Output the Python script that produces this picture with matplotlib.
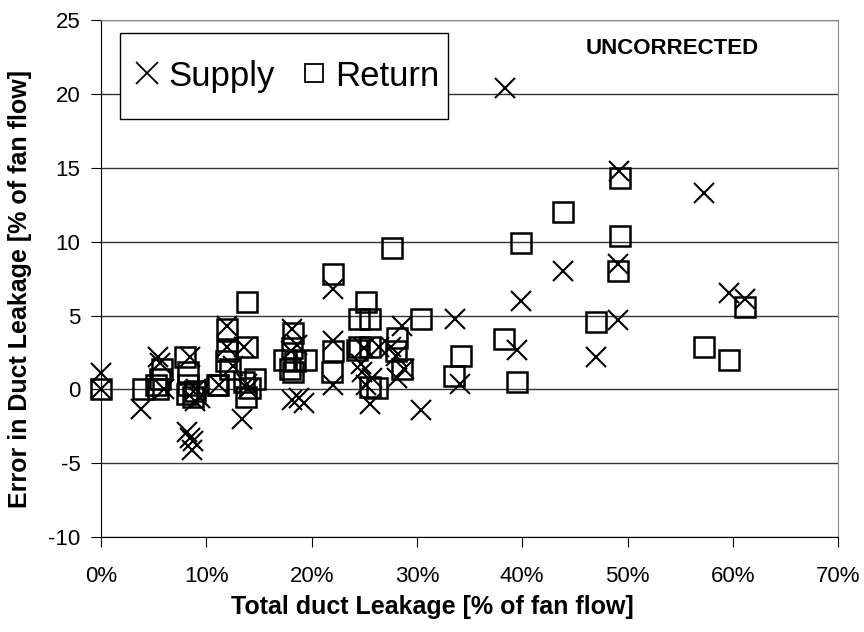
import matplotlib
matplotlib.use("Agg")
import matplotlib.pyplot as plt
from matplotlib.lines import Line2D
from matplotlib.patches import Rectangle
from matplotlib.ticker import PercentFormatter, MultipleLocator

plt.rcParams['font.family'] = ['Liberation Sans', 'DejaVu Sans']
plt.rcParams['axes.unicode_minus'] = False

# total duct leakage [% of fan flow] vs error [% of fan flow]
supply_x = [0.0, 0.0, 3.8, 5.4, 5.6, 6.0,
            8.2, 8.4, 8.6, 8.7, 8.9, 9.4, 8.4, 9.0,
            11.2, 12.0, 12.0, 12.5, 13.6, 13.4, 14.0, 13.9,
            18.1, 18.1, 18.8, 19.3, 18.0, 18.6,
            22.0, 22.0, 22.0, 24.7, 24.8, 25.0, 25.5, 25.7, 26.4, 25.2,
            28.1, 28.6, 28.8, 27.5, 28.0, 30.4,
            33.6, 34.1, 38.4, 39.5, 39.9, 43.9, 47.0,
            49.1, 49.1, 49.2, 57.3, 59.6, 61.2]
supply_y = [1.1, 0.0, -1.3, 2.2, 1.8, 0.0,
            -2.9, -3.3, -4.1, -3.5, -0.8, -0.6, 2.2, 0.0,
            0.3, 4.3, 2.9, 1.6, 2.9, -2.0, 0.0, 0.4,
            4.1, -0.7, -0.6, -0.9, 2.6, 3.0,
            6.8, 3.3, 0.3, 1.7, 1.2, 2.8, -1.0, 0.8, 2.9, 0.3,
            0.8, 4.3, 1.4, 2.9, 2.3, -1.4,
            4.8, 0.4, 20.4, 2.7, 6.0, 8.0, 2.2,
            4.7, 8.5, 14.8, 13.3, 6.5, 6.1]

return_x = [0.0, 4.0, 5.2, 5.4, 5.8, 5.6,
            8.0, 8.3, 8.3, 8.2, 8.7, 8.9,
            11.0, 11.1,
            12.0, 12.0, 11.9, 12.2,
            13.9, 13.6, 14.1, 13.8, 14.6, 13.9,
            18.2, 18.1, 17.4, 18.4, 19.5, 17.9, 18.2,
            22.0, 22.0, 21.9,
            25.2, 24.5, 25.5, 24.5, 25.5, 24.3, 25.5, 26.2,
            28.1, 28.0, 30.4, 28.6, 27.6,
            34.2, 33.5, 38.3, 39.5, 39.9, 43.9, 47.0,
            49.3, 49.3, 49.1,
            57.3, 59.6, 61.2]
return_y = [0.0, 0.0, 0.3, 0.0, 1.4, 0.7,
            2.2, 1.2, 0.3, -0.3, -0.5, -0.1,
            0.3, 0.3,
            4.1, 2.6, 1.9, 1.4,
            2.9, 0.5, 0.1, -0.5, 0.7, 5.9,
            3.8, 2.8, 2.0, 1.9, 2.0, 1.4, 1.2,
            7.8, 2.6, 1.2,
            5.9, 4.8, 4.8, 2.9, 2.9, 2.7, 0.2, 0.1,
            3.5, 2.6, 4.8, 1.4, 9.6,
            2.3, 0.9, 3.4, 0.5, 9.9, 12.0, 4.6,
            14.3, 10.4, 8.0,
            2.9, 2.0, 5.6]

fig = plt.figure(figsize=(8.64, 6.32), dpi=100)
ax = fig.add_axes([0.117, 0.150, 0.853, 0.818])

ax.plot(supply_x, supply_y, linestyle='none', marker='x', markersize=14,
        markeredgewidth=1.5, color='black', clip_on=False, zorder=3)
ax.plot(return_x, return_y, linestyle='none', marker='s', markersize=14,
        markeredgewidth=1.8, markerfacecolor='none', markeredgecolor='black',
        clip_on=False, zorder=3)

ax.set_xlim(0, 70)
ax.set_ylim(-10, 25)
ax.xaxis.set_major_locator(MultipleLocator(10))
ax.yaxis.set_major_locator(MultipleLocator(5))
ax.xaxis.set_major_formatter(PercentFormatter(100, decimals=0))

ax.yaxis.grid(True, color='#333333', linewidth=1.0)
ax.set_axisbelow(True)
for side in ['top', 'right']:
    ax.spines[side].set_color('#888888')
for side in ['left', 'bottom']:
    ax.spines[side].set_color('black')
ax.tick_params(direction='out', length=7, color='black', labelsize=16)
ax.tick_params(axis='x', pad=14)
ax.tick_params(axis='y', pad=8)

ax.set_xlabel('Total duct Leakage [% of fan flow]', fontsize=18,
              fontweight='bold')
ax.set_ylabel('Error in Duct Leakage [% of fan flow]', fontsize=18,
              fontweight='bold')
# labels sit off the axes centre like in the original chart
ax.xaxis.set_label_coords(0.449, -0.112)
ax.yaxis.set_label_coords(-0.094, 0.48)

ax.text(0.775, 0.945, 'UNCORRECTED', transform=ax.transAxes, fontsize=16,
        fontweight='bold', ha='center', va='center')

# legend box drawn by hand so its size matches
box = Rectangle((0.0257, 0.8085), 0.4445, 0.1665, transform=ax.transAxes,
                facecolor='white', edgecolor='black', linewidth=1.0, zorder=4)
ax.add_patch(box)
handles = [Line2D([], [], linestyle='none', marker='x', markersize=16,
                  markeredgewidth=1.3, color='black'),
           Line2D([], [], linestyle='none', marker='s', markersize=13,
                  markeredgewidth=1.3, markerfacecolor='none',
                  markeredgecolor='black')]
leg = ax.legend(handles, ['Supply', 'Return'], loc='center left',
                bbox_to_anchor=(0.046, 0.892), ncol=2, fontsize=25,
                frameon=False, handlelength=0.7, handletextpad=0.25,
                columnspacing=0.8, borderpad=0, borderaxespad=0)
leg.set_zorder(5)

fig.savefig('out.png', dpi=100)
